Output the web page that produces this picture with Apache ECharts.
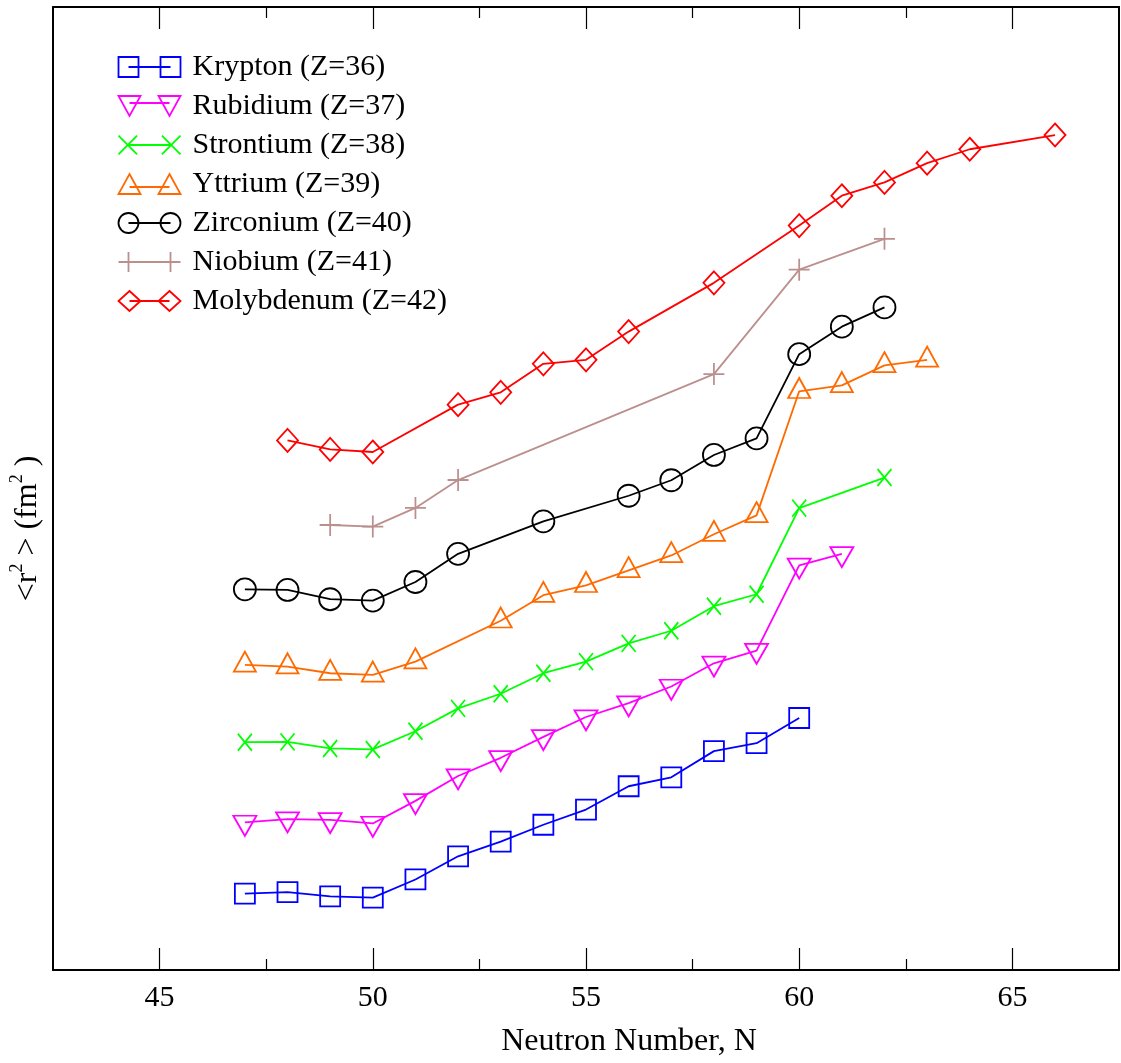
<!DOCTYPE html>
<html>
<head>
<meta charset="utf-8">
<script src="https://cdn.jsdelivr.net/npm/echarts@6/dist/echarts.min.js"></script>
<style>
html,body{margin:0;padding:0;background:#fff;}
#chart{width:1121px;height:1063px;}
</style>
</head>
<body>
<div id="chart"></div>
<script>
// Neutron numbers and mean-square charge radii (arbitrary offset units)
const krN = [47,48,49,50,51,52,53,54,55,56,57,58,59,60];
const krR = [76.7,78.3,74,72.7,91,114.3,129,146,161.3,184.7,193.7,220,228,253.3];
const rbN = [47,48,49,50,51,52,53,54,55,56,57,58,59,60,61];
const rbR = [148.3,151.7,151,147.3,170,195,213.3,234.3,254.3,268.3,285,308.3,321,406.7,418.3];
const srN = [47,48,49,50,51,52,53,54,55,56,57,58,59,60,62];
const srR = [229,229.3,222.7,221.7,240,263,277.7,298.3,310,328.3,341,365.7,377.7,464.3,495];
const yN  = [47,48,49,50,51,53,54,55,56,57,58,59,60,61,62,63];
const yR  = [306.7,305,298.3,296.7,310,351,376.7,386.7,401.7,416.7,438,457,581.7,587.7,607.7,613.3];
const zrN = [47,48,49,50,51,52,54,56,57,58,59,60,61,62];
const zrR = [382.7,382,372.7,371.3,390,418.3,451,476.7,492.3,517.7,534.3,619,646.7,666];
const nbN = [49,50,51,52,58,60,62];
const nbR = [447.3,445.7,464.5,492.5,599,704,735];
const moN = [48,49,50,52,53,54,55,56,58,60,61,62,63,64,66];
const moR = [532.3,523.3,520.7,568.3,580.7,609.3,613.3,641.7,690.7,748.3,778.3,791.7,811,825,839.3];

const seriesNames = ['Krypton (Z=36)','Rubidium (Z=37)','Strontium (Z=38)','Yttrium (Z=39)','Zirconium (Z=40)','Niobium (Z=41)','Molybdenum (Z=42)'];
const majorTicks = [45,50,55,60,65];
const minorTicks = [47.5,52.5,57.5,62.5];
const xLabelTitle = 'Neutron Number, N';

const colors = ['#0000ff','#ff00ff','#00ff00','#ff6a00','#000000','#bc8f8f','#ff0000'];
const FONT = 'Liberation Serif';

function pairs(ns, rs){ return ns.map((n,i)=>[n, rs[i]]); }
const dataSets = [pairs(krN,krR),pairs(rbN,rbR),pairs(srN,srR),pairs(yN,yR),pairs(zrN,zrR),pairs(nbN,nbR),pairs(moN,moR)];

const symbols = [
  {symbol:'rect', size:[20,20], offset:[0,0]},
  {symbol:'path://M0,0L22,0L11,20Z', size:[23,20], offset:[0,3.3]},
  {symbol:'path://M0,0L14,17M0,17L14,0', size:[14,17], offset:[0,0]},
  {symbol:'path://M11,0L22,20L0,20Z', size:[22,20], offset:[0,-3.3]},
  {symbol:'circle', size:[22,22], offset:[0,0]},
  {symbol:'path://M0,11H21M10.5,0V22', size:[21,22], offset:[0,0]},
  {symbol:'diamond', size:[21,23], offset:[0,0]}
];
const legendIcons = [
  'path://M0,0H20V20H0Z M42,0H62V20H42Z M10,10H52',
  'path://M0,0H22L11,20Z M40,0H62L51,20Z M11,7H51',
  'path://M1,1L19,19M1,19L19,1 M43,1L61,19M43,19L61,1 M10,10H52',
  'path://M11,0L22,20H0Z M51,0L62,20H40Z M11,13H51',
  'path://M0,10A10,10 0 1,0 20,10A10,10 0 1,0 0,10Z M42,10A10,10 0 1,0 62,10A10,10 0 1,0 42,10Z M10,10H52',
  'path://M0,10H62M10,0V20M52,0V20',
  'path://M11,0L22,10L11,20L0,10Z M51,0L62,10L51,20L40,10Z M11,10H51'
];

const series = dataSets.map((d,i)=>({
  name: seriesNames[i],
  type: 'line',
  data: d,
  symbol: symbols[i].symbol,
  symbolSize: symbols[i].size,
  symbolOffset: symbols[i].offset,
  showAllSymbol: true,
  lineStyle: {color: colors[i], width: 1.8},
  itemStyle: {color: 'none', borderColor: colors[i], borderWidth: 1.8},
  emphasis: {disabled: true},
  animation: false,
  z: 2 + i
}));

function xAx(pos, ticks, len, showLine, extra){
  return Object.assign({
    type:'value', min:42.5, max:67.5, position: pos,
    axisLine:{show: showLine, onZero:false, lineStyle:{color:'#000', width:2}},
    axisTick:{show:true, inside:true, length: len, customValues: ticks, lineStyle:{color:'#000', width:1.2}},
    axisLabel:{show:false},
    splitLine:{show:false}
  }, extra||{});
}

const option = {
  backgroundColor: '#fff',
  animation: false,
  grid: {left:50, right:2, top:7, bottom:87, containLabel:false},
  legend: {
    orient:'vertical', left:116, top:52, padding:0,
    itemWidth:62, itemHeight:20, itemGap:9,
    selectedMode:false,
    textStyle:{fontFamily:FONT, fontSize:30, color:'#000', lineHeight:30, padding:[0,0,0,7]},
    data: seriesNames.map((n,i)=>({name:n, icon: legendIcons[i], itemStyle:{color:'none', borderColor: colors[i], borderWidth:1.8}}))
  },
  xAxis: [
    xAx('bottom', majorTicks, 22, true, {
      axisLabel:{show:true, customValues: majorTicks, fontFamily:FONT, fontSize:30, color:'#000', margin:13, lineHeight:30},
      name: xLabelTitle, nameLocation:'middle', nameGap:56,
      nameTextStyle:{fontFamily:FONT, fontSize:32, color:'#000', lineHeight:32, padding:[0,0,0,86]}
    }),
    xAx('bottom', minorTicks, 11, false),
    xAx('top', majorTicks, 22, true),
    xAx('top', minorTicks, 11, false)
  ],
  yAxis: [
    {type:'value', min:0, max:968, position:'left',
     axisLine:{show:true, lineStyle:{color:'#000', width:2}},
     axisTick:{show:false}, axisLabel:{show:false}, splitLine:{show:false},
     name:'<r{s|2} > (fm{s|2} )', nameLocation:'middle', nameGap:5,
     nameTextStyle:{fontFamily:FONT, fontSize:32, color:'#000', lineHeight:40, padding:[0,80,0,0],
       rich:{s:{fontFamily:FONT, fontSize:18, lineHeight:18, verticalAlign:'top', color:'#000'}}}
    },
    {type:'value', min:0, max:968, position:'right',
     axisLine:{show:true, lineStyle:{color:'#000', width:2}},
     axisTick:{show:false}, axisLabel:{show:false}, splitLine:{show:false}}
  ],
  series: series
};

const chart = echarts.init(document.getElementById('chart'), null, {renderer:'canvas'});
chart.setOption(option);
</script>
</body>
</html>
